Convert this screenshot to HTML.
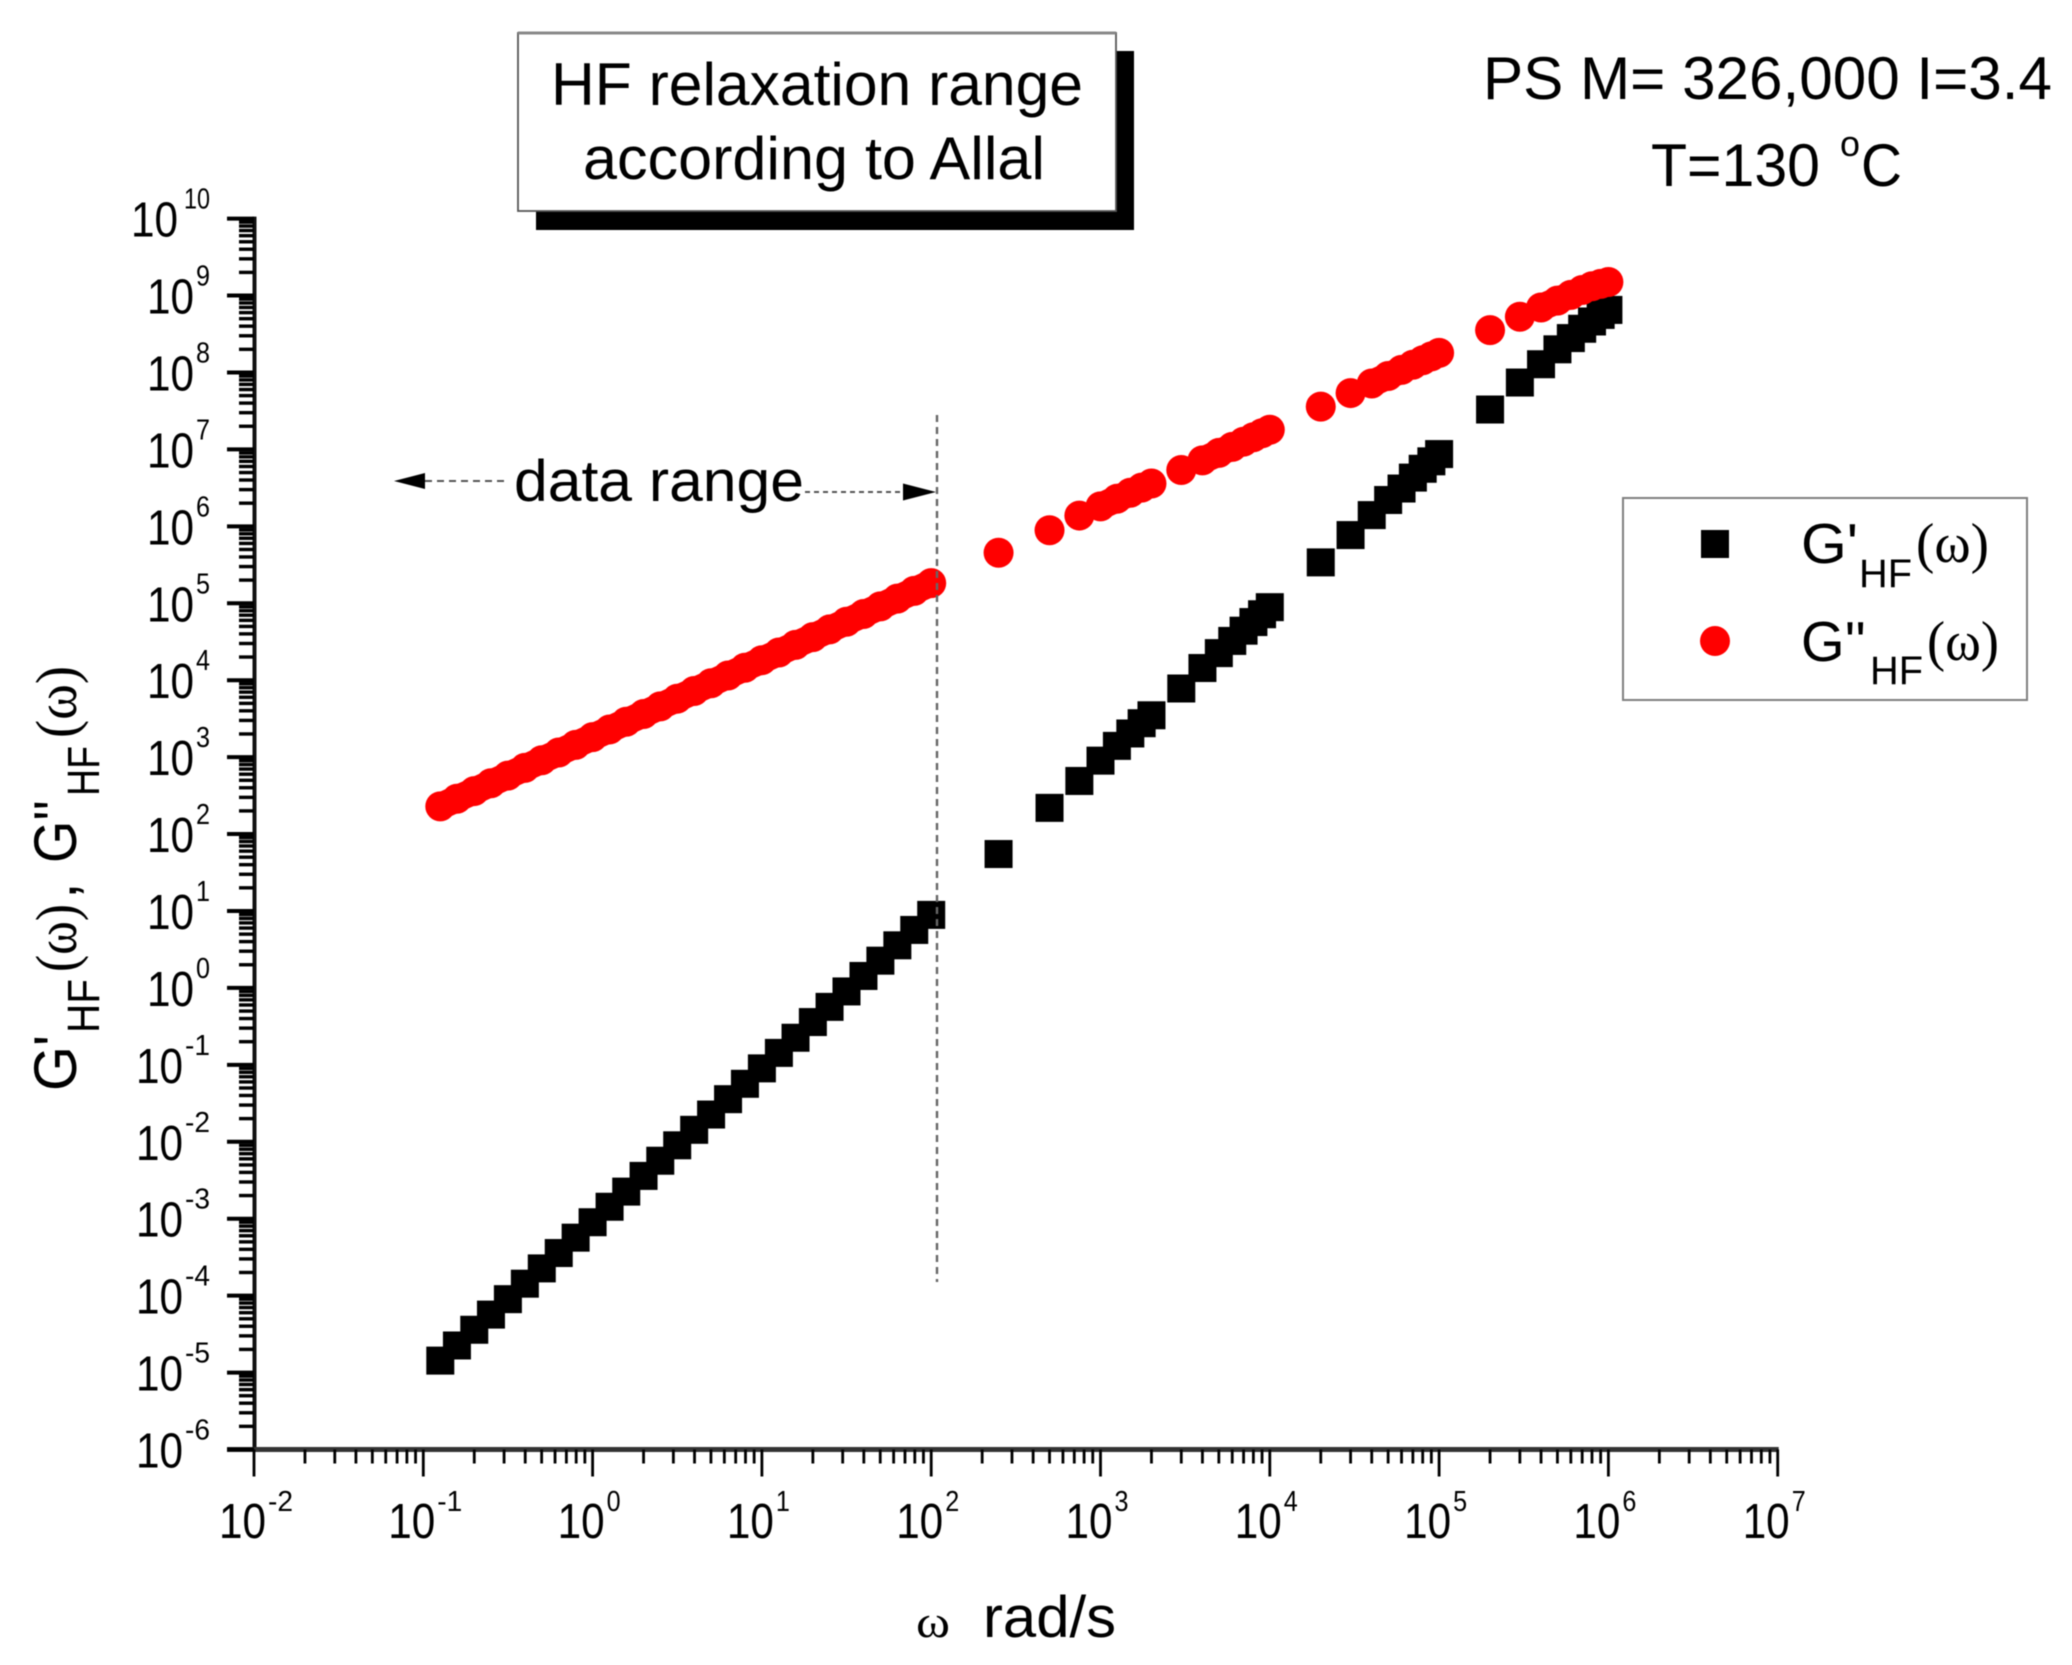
<!DOCTYPE html>
<html lang="en">
<head>
<meta charset="utf-8">
<title>HF relaxation range chart</title>
<style>
html,body{margin:0;padding:0;background:#fff;}
svg{display:block;filter:blur(0.5px);}
text{font-family:"Liberation Sans",sans-serif;fill:#000;}
.serif{font-family:"Liberation Serif",serif;}
</style>
</head>
<body>
<svg id="chart" xmlns="http://www.w3.org/2000/svg" width="2072" height="1665" viewBox="0 0 2072 1665">
  <rect x="0" y="0" width="2072" height="1665" fill="#fff"/>

  <g>
    <rect x="536" y="51" width="598" height="179" fill="#000"/>
    <rect x="518" y="33" width="598" height="178" fill="#fff" stroke="#555" stroke-width="1.8"/>
    <line x1="518" y1="33" x2="1116" y2="33" stroke="#888" stroke-width="3"/>
    <text x="551" y="105" font-size="60" textLength="532" lengthAdjust="spacingAndGlyphs">HF relaxation range</text>
    <text x="583" y="179" font-size="60" textLength="462" lengthAdjust="spacingAndGlyphs">according to Allal</text>
  </g>

  <g>
    <text x="1483" y="99" font-size="60" textLength="569" lengthAdjust="spacingAndGlyphs">PS M= 326,000 I=3.4</text>
    <text x="1651" y="186" font-size="60" textLength="169" lengthAdjust="spacingAndGlyphs">T=130</text>
    <text x="1840" y="156" font-size="36" textLength="20" lengthAdjust="spacingAndGlyphs">o</text>
    <text x="1861" y="186" font-size="60" textLength="41" lengthAdjust="spacingAndGlyphs">C</text>
  </g>

  <g id="axes"></g>
  <g id="tick-labels"></g>
  <g id="series-storage"></g>
  <g id="series-loss"></g>

  <g>
    <line x1="937" y1="415" x2="937" y2="1282" stroke="#666" stroke-width="2.4" stroke-dasharray="7 5"/>
    <line x1="425" y1="481" x2="505" y2="481" stroke="#555" stroke-width="2" stroke-dasharray="7 5"/>
    <polygon points="394,481 425,473 425,489" fill="#000"/>
    <line x1="805" y1="492" x2="903" y2="492" stroke="#555" stroke-width="2" stroke-dasharray="5 4"/>
    <polygon points="936,492 903,483.5 903,500.5" fill="#000"/>
    <text x="514" y="501" font-size="58" textLength="290" lengthAdjust="spacingAndGlyphs">data range</text>
  </g>

  <g>
    <rect x="1623" y="498" width="404" height="202" fill="#fff" stroke="#808080" stroke-width="2"/>
    <rect x="1701" y="530" width="28" height="28" fill="#000"/>
    <text x="1801" y="563" font-size="57" textLength="57" lengthAdjust="spacingAndGlyphs">G'</text>
    <text x="1859" y="587" font-size="40" textLength="53" lengthAdjust="spacingAndGlyphs">HF</text>
    <text class="serif" x="1916" y="562" font-size="56" textLength="73" lengthAdjust="spacingAndGlyphs">(ω)</text>
    <circle cx="1715" cy="641" r="15" fill="#ff0000"/>
    <text x="1801" y="661" font-size="57" textLength="65" lengthAdjust="spacingAndGlyphs">G''</text>
    <text x="1870" y="684" font-size="40" textLength="53" lengthAdjust="spacingAndGlyphs">HF</text>
    <text class="serif" x="1927" y="660" font-size="56" textLength="72" lengthAdjust="spacingAndGlyphs">(ω)</text>
  </g>

  <g>
    <text transform="translate(76,1091) rotate(-90)" font-size="60" textLength="56" lengthAdjust="spacingAndGlyphs">G'</text>
    <text transform="translate(99,1033) rotate(-90)" font-size="45" textLength="54" lengthAdjust="spacingAndGlyphs">HF</text>
    <text class="serif" transform="translate(76,972) rotate(-90)" font-size="58" textLength="68" lengthAdjust="spacingAndGlyphs">(ω)</text>
    <text transform="translate(76,899) rotate(-90)" font-size="60">,</text>
    <text transform="translate(76,863) rotate(-90)" font-size="60" textLength="63" lengthAdjust="spacingAndGlyphs">G''</text>
    <text transform="translate(99,796) rotate(-90)" font-size="45" textLength="50" lengthAdjust="spacingAndGlyphs">HF</text>
    <text class="serif" transform="translate(76,738) rotate(-90)" font-size="58" textLength="72" lengthAdjust="spacingAndGlyphs">(ω)</text>
  </g>

  <g>
    <text class="serif" x="916" y="1637" font-size="46" textLength="34" lengthAdjust="spacingAndGlyphs">ω</text>
    <text x="983" y="1637" font-size="58" textLength="133" lengthAdjust="spacingAndGlyphs">rad/s</text>
  </g>
</svg>

<script>
var xTickExponents = ["-2","-1","0","1","2","3","4","5","6","7"];
var yTickExponents = ["10","9","8","7","6","5","4","3","2","1","0","-1","-2","-3","-4","-5","-6"];
var minorMultipliers = [2,3,4,5,6,7,8,9];

var omega = [
  0.126,0.158,0.2,0.251,0.316,0.398,0.501,0.631,0.794,1,
  1.26,1.58,2,2.51,3.16,3.98,5.01,6.31,7.94,10,
  12.6,15.8,20,25.1,31.6,39.8,50.1,63.1,79.4,100,
  250,500,750,1000,1250,1500,1750,2000,
  3000,4000,5000,6000,7000,8000,9000,10000,
  20000,30000,40000,50000,60000,70000,80000,90000,100000,
  200000,300000,400000,500000,600000,700000,800000,900000,1000000
];
var gPrime = [
  1.43e-5,2.25e-5,3.6e-5,5.67e-5,9e-5,1.43e-4,2.26e-4,3.58e-4,5.67e-4,9e-4,
  1.43e-3,2.25e-3,3.6e-3,5.67e-3,9e-3,1.43e-2,2.26e-2,3.58e-2,5.67e-2,9e-2,
  0.143,0.225,0.36,0.567,0.9,1.43,2.26,3.58,5.67,8.9,
  55,219,490,900,1400,2030,2760,3500,
  7800,14400,22500,32400,44000,57000,72000,89000,
  340000,770000,1.4e6,2.2e6,3.1e6,4.3e6,5.6e6,7e6,8.7e6,
  3.3e7,7.4e7,1.28e8,2e8,2.8e8,3.7e8,4.6e8,5.6e8,6.5e8
];
var gDoublePrime = [
  229,288,362,457,575,724,912,1148,1445,1820,
  2290,2880,3630,4570,5750,7240,9120,11500,14500,18200,
  22900,28800,36300,45700,57500,72400,91200,115000,145000,183000,
  4.54e5,8.9e5,1.38e6,1.82e6,2.28e6,2.73e6,3.19e6,3.6e6,
  5.4e6,7.2e6,9e6,1.08e7,1.26e7,1.44e7,1.62e7,1.8e7,
  3.6e7,5.4e7,7.2e7,9e7,1.08e8,1.26e8,1.44e8,1.62e8,1.8e8,
  3.55e8,5.3e8,7e8,8.6e8,1.02e9,1.18e9,1.32e9,1.42e9,1.5e9
];

var SVG_NS = "http://www.w3.org/2000/svg";
var plotLeft = 254, plotBottom = 1449.5;
var pxPerDecadeX = 169.3, pxPerDecadeY = 76.93;
var xMinExp = -2, yMinExp = -6;

function xScale(v){ return plotLeft + (Math.log10(v) - xMinExp) * pxPerDecadeX; }
function yScale(v){ return plotBottom - (Math.log10(v) - yMinExp) * pxPerDecadeY; }

function make(tag, attrs, parent){
  var el = document.createElementNS(SVG_NS, tag);
  for (var k in attrs) el.setAttribute(k, attrs[k]);
  parent.appendChild(el);
  return el;
}

var axes = document.getElementById("axes");
var labels = document.getElementById("tick-labels");
var storage = document.getElementById("series-storage");
var loss = document.getElementById("series-loss");

var yTop = yScale(Math.pow(10, Number(yTickExponents[0])));
var xRight = xScale(Math.pow(10, Number(xTickExponents[xTickExponents.length - 1])));

var yAxisLine = make("line", {x1: plotLeft + 0.5, y1: yTop - 2, x2: plotLeft + 0.5, y2: plotBottom + 2, stroke: "#111", "stroke-width": 4}, axes);


var xAxisLine = make("line", {x1: 227, y1: plotBottom, x2: xRight + 1, y2: plotBottom, stroke: "#333", "stroke-width": 5}, axes);



function supWidth(s){ return s.length === 1 ? 14 : (s.charAt(0) === "-" ? 25 : 26); }
function supAdvance(s){ return s.length === 1 ? 16 : (s.charAt(0) === "-" ? 27 : 32); }

xTickExponents.forEach(function(label, i){
  var base = Math.pow(10, Number(label));
  var px = xScale(base);
  var major = make("line", {x1: px, y1: plotBottom, x2: px, y2: plotBottom + 27, stroke: "#000", "stroke-width": 2.8}, axes);
  
  
  if (i < xTickExponents.length - 1) {
    minorMultipliers.forEach(function(m){
      var mx = xScale(base * m);
      var minor = make("line", {x1: mx, y1: plotBottom, x2: mx, y2: plotBottom + 14, stroke: "#000", "stroke-width": 2.8}, axes);
      
      
    });
  }
  var ten = make("text", {x: px - 35, y: 1538, "font-size": 49, textLength: 47, lengthAdjust: "spacingAndGlyphs"}, labels);
  ten.textContent = "10";
  
  
  var sup = make("text", {x: px + 14, y: 1511, "font-size": 29, textLength: supWidth(label), lengthAdjust: "spacingAndGlyphs"}, labels);
  sup.textContent = label;
  
  
});

yTickExponents.forEach(function(label){
  var base = Math.pow(10, Number(label));
  var py = yScale(base);
  var major = make("line", {x1: 227, y1: py, x2: plotLeft, y2: py, stroke: "#000", "stroke-width": 4}, axes);
  
  
  if (label !== yTickExponents[0]) {
    minorMultipliers.forEach(function(m){
      var my = yScale(base * m);
      var minor = make("line", {x1: 239, y1: my, x2: plotLeft, y2: my, stroke: "#000", "stroke-width": 3.4}, axes);
      
      
    });
  }
  var adv = supAdvance(label);
  var ten = make("text", {x: 210 - adv - 47, y: py + 18, "font-size": 49, textLength: 47, lengthAdjust: "spacingAndGlyphs"}, labels);
  ten.textContent = "10";
  
  
  var sup = make("text", {x: 210 - supWidth(label), y: py - 10, "font-size": 29, textLength: supWidth(label), lengthAdjust: "spacingAndGlyphs"}, labels);
  sup.textContent = label;
  
  
});

omega.forEach(function(w, i){
  var square = make("rect", {x: xScale(w) - 14, y: yScale(gPrime[i]) - 14, width: 28, height: 28, fill: "#000"}, storage);
  
  
});
omega.forEach(function(w, i){
  if (i > 0) {
    var x0 = xScale(omega[i - 1]), y0 = yScale(gDoublePrime[i - 1]);
    var x1 = xScale(w), y1 = yScale(gDoublePrime[i]);
    if (Math.hypot(x1 - x0, y1 - y0) < 21) {
      var joint = make("line", {x1: x0, y1: y0, x2: x1, y2: y1, stroke: "#ff0000", "stroke-width": 27}, loss);
      
      
    }
  }
  var dot = make("circle", {cx: xScale(w), cy: yScale(gDoublePrime[i]), r: 15, fill: "#ff0000"}, loss);
  
  
});
</script>
</body>
</html>
